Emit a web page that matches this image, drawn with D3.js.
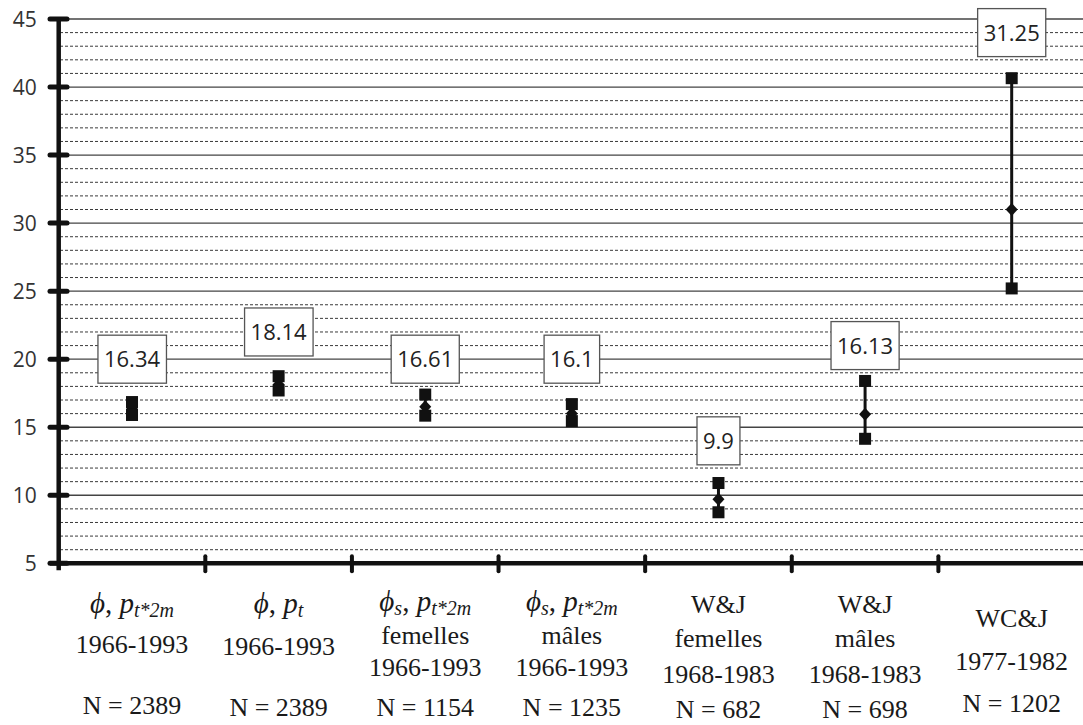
<!DOCTYPE html>
<html>
<head>
<meta charset="utf-8">
<script src="https://cdn.jsdelivr.net/npm/d3@7"></script>
<style>
  html, body { margin: 0; padding: 0; background: #fff; }
  svg { display: block; }
  .serif { font-family: "Liberation Serif", "Times New Roman", "DejaVu Serif", serif; }
</style>
</head>
<body>
<div id="chart"></div>
<script>
/* Werte */
var categories = ["c1", "c2", "c3", "c4", "c5", "c6", "c7"];
var boxLabels  = ["16.34", "18.14", "16.61", "16.1", "9.9", "16.13", "31.25"];
var centres    = [16.34, 18.14, 16.5, 16.0, 9.7, 15.95, 31.0];
var upper      = [16.85, 18.75, 17.4, 16.7, 10.9, 18.4, 40.65];
var lower      = [15.9, 17.7, 15.85, 15.45, 8.75, 14.15, 25.2];
var boxAt      = [20, 22, 20, 20, 14, 21, 44];
var yTicks     = [5, 10, 15, 20, 25, 30, 35, 40, 45];
var periods    = ["1966-1993", "1966-1993", "1966-1993", "1966-1993", "1968-1983", "1968-1983", "1977-1982"];
var sexes      = ["", "", "femelles", "mâles", "femelles", "mâles", ""];
var sizes      = ["N = 2389", "N = 2389", "N = 1154", "N = 1235", "N = 682", "N = 698", "N = 1202"];
var models     = [
  {phi: "", p: "t*2m"}, {phi: "", p: "t"}, {phi: "s", p: "t*2m"}, {phi: "s", p: "t*2m"},
  {text: "W&J"}, {text: "W&J"}, {text: "WC&J"}
];

var W = 1083, H = 725;
var svg = d3.select("#chart").append("svg").attr("width", W).attr("height", H);

var y = d3.scaleLinear().domain([5, 45]).range([563.3, 19]);
var x = d3.scaleBand().domain(categories).range([58.7, 1085]);
var cx = function(i) { return x(categories[i]) + x.bandwidth() / 2; };

/* Gitterlinien */
var minor = d3.range(5, 45.5, 1).filter(function(v) { return v % 5 != 0; });
svg.append("g").selectAll("line").data(minor).enter().append("line")
  .attr("x1", 60).attr("x2", W).attr("y1", y).attr("y2", y)
  .attr("stroke", "#3a3a3a").attr("stroke-width", 1).attr("stroke-dasharray", "3,2");
svg.append("g").selectAll("line").data(yTicks.slice(1)).enter().append("line")
  .attr("x1", 60).attr("x2", W).attr("y1", y).attr("y2", y)
  .attr("stroke", "#444").attr("stroke-width", 1.3);

/* Achsen */
var yAxis = d3.axisLeft(y).tickValues(yTicks).tickSize(0).tickPadding(22);
var gy = svg.append("g").attr("transform", "translate(58.7,0)").call(yAxis);
gy.select(".domain").remove();
gy.selectAll("text").attr("font-family", "'Open Sans', sans-serif").attr("font-size", "21px")
  .attr("fill", "#333").attr("dy", "0.36em");
svg.append("line").attr("x1", 58.7).attr("x2", 58.7).attr("y1", y(45) - 2).attr("y2", y(5) + 7)
  .attr("stroke", "#111").attr("stroke-width", 4.5);
svg.append("g").selectAll("line").data(yTicks).enter().append("line")
  .attr("x1", 50).attr("x2", 67).attr("y1", y).attr("y2", y)
  .attr("stroke", "#111").attr("stroke-width", 5).attr("stroke-linecap", "round");

svg.append("line").attr("x1", 50).attr("x2", W).attr("y1", y(5)).attr("y2", y(5))
  .attr("stroke", "#111").attr("stroke-width", 4.5);
svg.append("g").selectAll("line").data(categories.slice(1)).enter().append("line")
  .attr("x1", function(d) { return x(d); }).attr("x2", function(d) { return x(d); })
  .attr("y1", y(5) - 7).attr("y2", y(5) + 8)
  .attr("stroke", "#111").attr("stroke-width", 4).attr("stroke-linecap", "round");

/* Fehlerbalken und Punkte */
var marks = svg.append("g");
categories.forEach(function(c, i) {
  var px = cx(i);
  marks.append("line").attr("x1", px).attr("x2", px).attr("y1", y(lower[i])).attr("y2", y(upper[i]))
    .attr("stroke", "#111").attr("stroke-width", 3);
  marks.append("path").attr("transform", "translate(" + px + "," + y(centres[i]) + ")")
    .attr("d", "M0,-6.5L6,0L0,6.5L-6,0Z").attr("fill", "#111");
  [upper[i], lower[i]].forEach(function(v) {
    marks.append("rect").attr("x", px - 6).attr("y", y(v) - 6).attr("width", 12).attr("height", 12)
      .attr("fill", "#111");
  });
});

/* Beschriftungskästen */
categories.forEach(function(c, i) {
  var g = svg.append("g");
  var t = g.append("text").attr("x", cx(i)).attr("y", y(boxAt[i])).attr("dy", "0.36em")
    .attr("text-anchor", "middle").attr("font-family", "'Open Sans', sans-serif")
    .attr("font-size", "22px").attr("fill", "#222").text(boxLabels[i]);
  var bb = t.node().getBBox();
  g.insert("rect", "text").attr("x", bb.x - 6).attr("y", y(boxAt[i]) - 24)
    .attr("width", bb.width + 12).attr("height", 48)
    .attr("fill", "#fff").attr("stroke", "#555").attr("stroke-width", 1.3);
});

/* Kategorienbeschriftung */
var lines = [
  [613, 653, 714], [613, 655, 716], [611, 644, 676, 716], [611, 644, 676, 716],
  [613, 647, 683, 718], [613, 647, 683, 718], [627, 670, 712]
];
var lab = svg.append("g").attr("class", "serif").attr("fill", "#1a1a1a").attr("text-anchor", "middle");
categories.forEach(function(c, i) {
  var px = cx(i), ys = lines[i], m = models[i], k = 0;
  var t1 = lab.append("text").attr("x", px).attr("y", ys[k++]);
  if (m.text) {
    t1.attr("font-size", "26px").text(m.text);
  } else {
    t1.attr("font-size", "29px").attr("font-style", "italic");
    t1.append("tspan").text("\u03d5");
    if (m.phi) t1.append("tspan").attr("font-size", "20px").attr("dy", 4).text(m.phi);
    t1.append("tspan").attr("dy", m.phi ? -4 : 0).attr("font-style", "normal").text(", ");
    t1.append("tspan").text("p");
    t1.append("tspan").attr("font-size", "20px").attr("dy", 4).text(m.p);
  }
  if (sexes[i]) lab.append("text").attr("x", px).attr("y", ys[k++]).attr("font-size", "26px").text(sexes[i]);
  lab.append("text").attr("x", px).attr("y", ys[k++]).attr("font-size", "26px").text(periods[i]);
  lab.append("text").attr("x", px).attr("y", ys[k++]).attr("font-size", "26px").text(sizes[i]);
});
</script>
</body>
</html>
